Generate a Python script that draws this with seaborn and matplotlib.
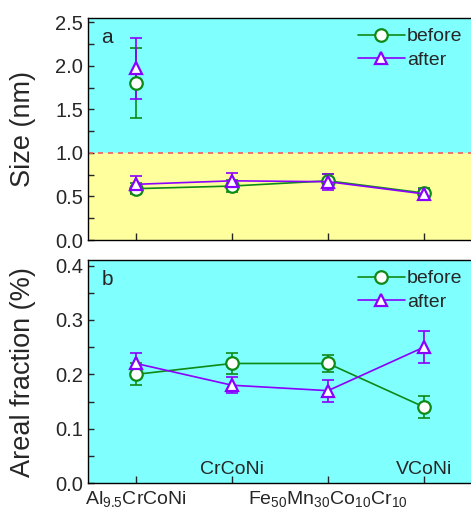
import numpy as np
import pandas as pd
import matplotlib
matplotlib.use("Agg")
import matplotlib.pyplot as plt
from matplotlib.ticker import MultipleLocator, FixedLocator, FixedFormatter
import seaborn as sns

# data
alloys = [r'Al$_{9.5}$CrCoNi', 'CrCoNi', r'Fe$_{50}$Mn$_{30}$Co$_{10}$Cr$_{10}$', 'VCoNi']
xpos = [1, 2, 3, 4]

size_before = [0.59, 0.62, 0.68, 0.54]
size_before_err = [0.06, 0.07, 0.08, 0.06]
size_after = [0.64, 0.68, 0.67, 0.53]
size_after_err = [0.10, 0.09, 0.09, 0.06]

# second (large) population in Al9.5CrCoNi
big_before = [1.80]
big_before_err = [0.40]
big_after = [1.97]
big_after_err = [0.35]

frac_before = [0.20, 0.22, 0.22, 0.14]
frac_before_err = [0.02, 0.02, 0.015, 0.02]
frac_after = [0.22, 0.18, 0.17, 0.25]
frac_after_err = [0.02, 0.015, 0.02, 0.03]

sns.set_theme(style="ticks")
plt.rcParams['font.family'] = ['Liberation Sans', 'DejaVu Sans']
plt.rcParams['mathtext.default'] = 'regular'

green = '#0E8A16'
purple = '#8A00FF'
cyan = '#80FFFF'
yellow = '#FFFF9E'

fig = plt.figure(figsize=(4.71, 5.14), dpi=100)
ax1 = fig.add_axes([0.187, 0.533, 0.815, 0.432])
ax2 = fig.add_axes([0.187, 0.060, 0.815, 0.434])


def draw_series(ax, x, y, err, color, marker, label):
    ax.errorbar(x, y, yerr=err, fmt='none', ecolor=color, elinewidth=1.2,
                capsize=4, capthick=1.2, zorder=2)
    sns.lineplot(x=x, y=y, ax=ax, color=color, marker=marker, markersize=9,
                 markerfacecolor='white', markeredgecolor=color, markeredgewidth=1.6,
                 linewidth=1.2, label=label, zorder=3, legend=False)


# 上图：尺寸
ax1.set_facecolor(cyan)
ax1.axhspan(0, 1.0, color=yellow, zorder=0)
ax1.axhline(1.0, color='#F06060', linestyle=(0, (3, 3)), linewidth=1.2, zorder=1)
draw_series(ax1, xpos, size_before, size_before_err, green, 'o', 'before')
draw_series(ax1, xpos, size_after, size_after_err, purple, '^', 'after')
draw_series(ax1, xpos[:1], big_before, big_before_err, green, 'o', None)
draw_series(ax1, xpos[:1], big_after, big_after_err, purple, '^', None)
ax1.set_ylim(0, 2.55)
ax1.yaxis.set_major_locator(MultipleLocator(0.5))
ax1.yaxis.set_minor_locator(MultipleLocator(0.25))
ax1.set_ylabel('Size (nm)', fontsize=19.5)
ax1.set_xticks(xpos)
ax1.set_xticklabels([])
ax1.text(0.035, 0.955, 'a', transform=ax1.transAxes, fontsize=15, va='top')

# 下图：面积分数
ax2.set_facecolor(cyan)
draw_series(ax2, xpos, frac_before, frac_before_err, green, 'o', 'before')
draw_series(ax2, xpos, frac_after, frac_after_err, purple, '^', 'after')
ax2.set_ylim(0, 0.41)
ax2.yaxis.set_major_locator(MultipleLocator(0.1))
ax2.yaxis.set_minor_locator(MultipleLocator(0.05))
ax2.set_ylabel('Areal fraction (%)', fontsize=19.5)
ax2.text(0.035, 0.955, 'b', transform=ax2.transAxes, fontsize=15, va='top')

# labels 1 and 3 below the axis (major), labels 2 and 4 inside the axes (minor)
ax2.xaxis.set_major_locator(FixedLocator(xpos[0::2]))
ax2.xaxis.set_major_formatter(FixedFormatter(alloys[0::2]))
ax2.xaxis.set_minor_locator(FixedLocator(xpos[1::2]))
ax2.xaxis.set_minor_formatter(FixedFormatter(alloys[1::2]))
ax2.tick_params(axis='x', which='both', labelsize=14)
ax2.tick_params(axis='x', which='minor', direction='in', length=5, width=1, pad=-16)

for ax in (ax1, ax2):
    ax.set_xlim(0.5, 4.5)
    ax.set_xlabel('')
    ax.tick_params(axis='both', which='both', direction='in', top=False, right=False)
    ax.tick_params(axis='y', which='major', length=4, width=1, labelsize=14.5)
    ax.tick_params(axis='y', which='minor', length=4, width=1)
    ax.tick_params(axis='x', which='major', length=5, width=1, pad=4)
    ax.yaxis.set_label_coords(-0.135, 0.5)
    for sp in ax.spines.values():
        sp.set_linewidth(1.0)
        sp.set_color('black')
    ax.spines['right'].set_visible(False)
    ax.grid(False)
    leg = ax.legend(loc='upper right', frameon=False, fontsize=14, handlelength=2.4,
                    handletextpad=0.1, borderaxespad=0.1, labelspacing=0.3)

fig.savefig('out.png', dpi=100)
